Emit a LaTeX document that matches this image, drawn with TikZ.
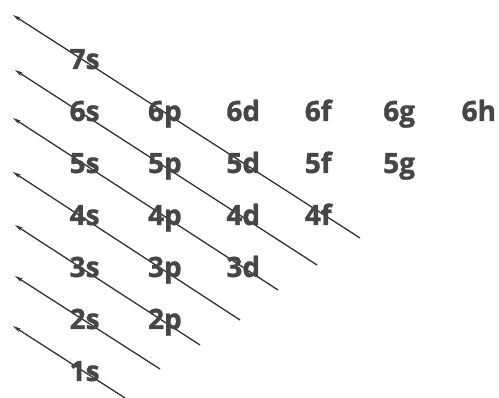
\documentclass[tikz,border=0pt]{standalone}
\usepackage{fontspec}
\setsansfont{Open Sans}[BoldFeatures={FakeBold=1.2}]
\usetikzlibrary{arrows.meta}
\definecolor{ink}{RGB}{50,50,50}
\definecolor{labgray}{RGB}{70,70,70}

\begin{document}
\begin{tikzpicture}[x=1pt,y=-1pt,line width=1.3pt,
  orb/.style={anchor=base west,inner sep=0pt,text=labgray,
    font=\sffamily\bfseries\fontsize{28}{33}\selectfont},
  diag/.style={draw=ink,-{Stealth[length=8pt,width=4pt]}}]
  \useasboundingbox (0,0) rectangle (499,398);
  % diagonals: tail at lower right, tip at upper left
  \foreach \n/\tx/\ty/\ex/\ey in {7/13/15/360/238,6/15/70/317/265,5/13/118/278/290,
    4/13/172/240/320,3/15/225/200/345,2/15/276/160/369,1/13/326/125/398}{
    \coordinate (tip\n) at (\tx,\ty);
    \coordinate (tail\n) at (\ex,\ey);
    \draw[diag] (tail\n) -- (tip\n);
  }
  % orbital labels, one row per shell
  \foreach \n/\l/\c in {7/s/0,6/s/0,6/p/1,6/d/2,6/f/3,6/g/4,6/h/5,
    5/s/0,5/p/1,5/d/2,5/f/3,5/g/4,4/s/0,4/p/1,4/d/2,4/f/3,
    3/s/0,3/p/1,3/d/2,2/s/0,2/p/1,1/s/0}
    \node[orb] (o\n\l) at ({69+78.4*\c},{69+52*(7-\n)}) {\n\l};
\end{tikzpicture}
\end{document}
